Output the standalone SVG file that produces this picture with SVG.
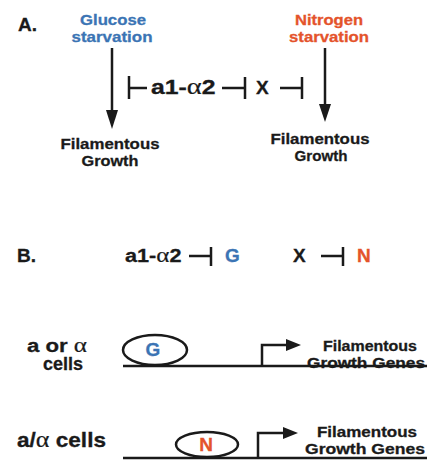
<svg xmlns="http://www.w3.org/2000/svg" width="427" height="462" viewBox="0 0 427 462">
<defs>
<style>
text{font-family:"Liberation Sans",Arial,sans-serif;font-weight:bold;fill:#1a1a1a;stroke:#1a1a1a;stroke-width:0.3}
.blue{fill:#3b74b4;stroke:#3b74b4}
.org{fill:#e4532b;stroke:#e4532b}
.alpha{font-family:"Liberation Serif","Times New Roman",serif;font-weight:normal;stroke-width:0.2}
.ln{stroke:#1a1a1a;stroke-width:2.5;fill:none}
.head{fill:#1a1a1a}
.mid{text-anchor:middle}
</style>
</defs>
<rect width="427" height="462" fill="#fff"/>
<g id="panelA-label"><text x="18" y="31" font-size="19">A.</text></g>
<g id="glucose"><text class="blue mid" x="113" y="25" font-size="15.5" textLength="66" lengthAdjust="spacingAndGlyphs">Glucose</text><text class="blue mid" x="112" y="41.5" font-size="15.5" textLength="81" lengthAdjust="spacingAndGlyphs">starvation</text></g>
<g id="nitrogen"><text class="org mid" x="329" y="25" font-size="15.5" textLength="68" lengthAdjust="spacingAndGlyphs">Nitrogen</text><text class="org mid" x="329" y="41.5" font-size="15.5" textLength="80" lengthAdjust="spacingAndGlyphs">starvation</text></g>
<g id="fg-left"><text class="mid" x="110" y="148.5" font-size="15.5" textLength="99" lengthAdjust="spacingAndGlyphs">Filamentous</text><text class="mid" x="110" y="165.5" font-size="15.5" textLength="57" lengthAdjust="spacingAndGlyphs">Growth</text></g>
<g id="fg-right"><text class="mid" x="320" y="143.5" font-size="15.5" textLength="99" lengthAdjust="spacingAndGlyphs">Filamentous</text><text class="mid" x="321" y="160.5" font-size="15.5" textLength="53" lengthAdjust="spacingAndGlyphs">Growth</text></g>
<g id="a1a2-A"><text transform="translate(151,94) scale(1.24,1)" font-size="20">a1-<tspan class="alpha" font-size="23">α</tspan>2</text></g>
<g id="X-A"><text x="256" y="94" font-size="19">X</text></g>
<g id="panelB-label"><text x="17" y="262" font-size="19">B.</text></g>
<g id="a1a2-B"><text transform="translate(125,262) scale(1.14,1)" font-size="19">a1-<tspan class="alpha" font-size="22">α</tspan>2</text></g>
<g id="G-B"><text class="blue" x="225" y="262" font-size="19">G</text></g>
<g id="X-B"><text x="293" y="262" font-size="19">X</text></g>
<g id="N-B"><text class="org" x="357" y="262" font-size="19">N</text></g>
<g id="haploid-label"><text transform="translate(27,352) scale(1.2,1)" font-size="18.5">a or <tspan class="alpha" font-size="21">α</tspan></text><text class="mid" x="63" y="369.5" font-size="18" textLength="40" lengthAdjust="spacingAndGlyphs">cells</text></g>
<g id="G-protein"><ellipse class="ln" cx="155" cy="350" rx="32" ry="15"/><text class="blue mid" x="153" y="356" font-size="19">G</text></g>
<g id="genes1"><text class="mid" x="370" y="351" font-size="14.5" textLength="94" lengthAdjust="spacingAndGlyphs">Filamentous</text><text class="mid" x="366" y="367.5" font-size="14.5" textLength="118" lengthAdjust="spacingAndGlyphs">Growth Genes</text></g>
<g id="diploid-label"><text transform="translate(17,447) scale(1.13,1)" font-size="20">a/<tspan class="alpha" font-size="23">α</tspan> cells</text></g>
<g id="N-protein"><ellipse class="ln" cx="207" cy="444.5" rx="31" ry="12.5"/><text class="org mid" x="206" y="451" font-size="19">N</text></g>
<g id="genes2"><text class="mid" x="367" y="437" font-size="14.5" textLength="100" lengthAdjust="spacingAndGlyphs">Filamentous</text><text class="mid" x="365" y="453.5" font-size="14.5" textLength="120" lengthAdjust="spacingAndGlyphs">Growth Genes</text></g>
<g id="connectors">
<line class="ln" x1="112" y1="48" x2="112" y2="112"/>
<polygon class="head" points="106,110 118,110 112,129"/>
<line class="ln" x1="325" y1="48" x2="325" y2="106"/>
<polygon class="head" points="319,104 331,104 325,122"/>
<path class="ln" d="M129,76 V99 M129,88 H147"/>
<path class="ln" d="M222,88 H245 M245,77 V99"/>
<path class="ln" d="M280,88 H302 M302,77 V99"/>
<path class="ln" d="M189,256 H211 M211,247 V266"/>
<path class="ln" d="M321,256 H343 M343,247 V266"/>
<line class="ln" x1="123" y1="366" x2="427" y2="366"/>
<path class="ln" d="M262,366 V345 H288"/>
<polygon class="head" points="286,339 286,351 301,345"/>
<line class="ln" x1="123" y1="458" x2="427" y2="458"/>
<path class="ln" d="M258,458 V433 H285"/>
<polygon class="head" points="283,427 283,439 298,433"/>
</g>
</svg>
